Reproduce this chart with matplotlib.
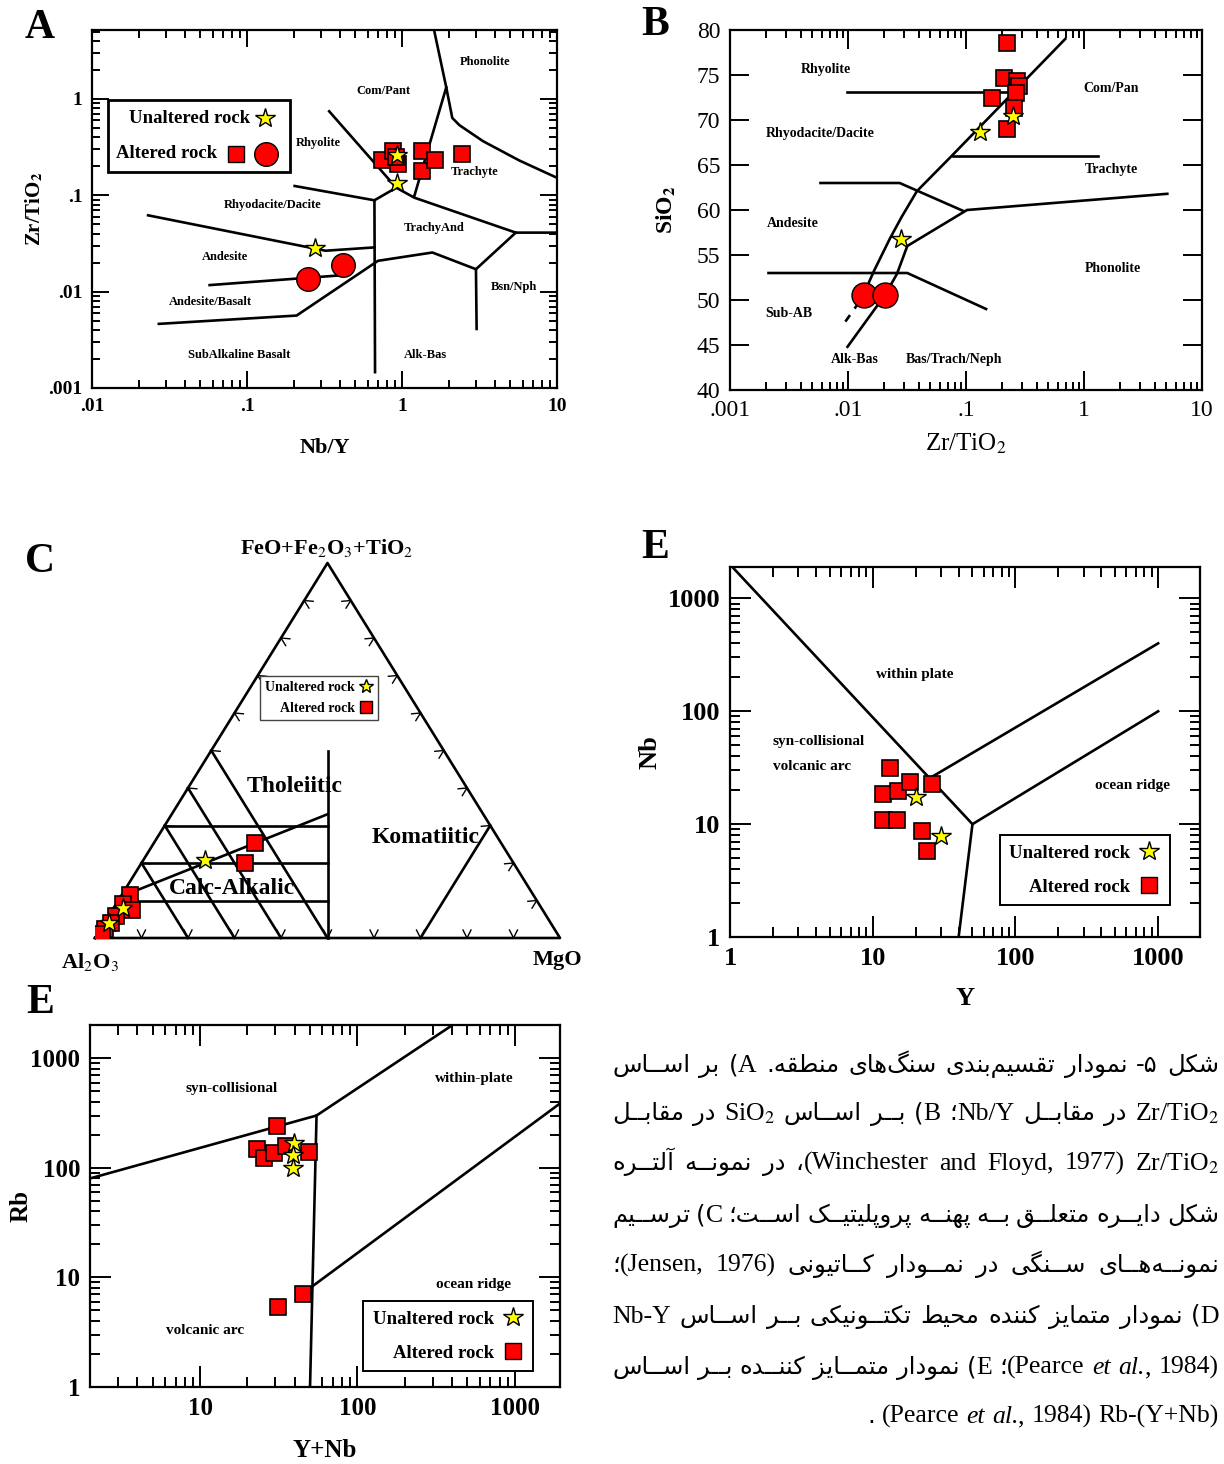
import matplotlib
matplotlib.use("Agg")
import matplotlib.pyplot as plt
from matplotlib.lines import Line2D
from matplotlib.patches import Rectangle
from matplotlib.ticker import LogLocator, NullFormatter

plt.rcParams["font.family"] = ["Liberation Serif", "DejaVu Sans"]
plt.rcParams["mathtext.fontset"] = "stix"

W, H = 1224, 1464
RED = "#ff0000"
YEL = "#ffff00"

# ---------------- A: Zr/TiO2 vs Nb/Y ----------------
a_sq_x = [0.74, 0.87, 0.94, 0.92, 1.34, 1.34, 1.63, 2.44]
a_sq_y = [0.23, 0.29, 0.21, 0.25, 0.29, 0.18, 0.23, 0.27]
a_st_x = [0.93, 0.93, 0.273]
a_st_y = [0.265, 0.135, 0.0283]
a_ci_x = [0.249, 0.414]
a_ci_y = [0.0135, 0.0189]
a_lines = [
    ([1.61, 1.93, 2.11, 2.35, 3.33, 5.71, 10], [5.2, 1.32, 0.636, 0.534, 0.365, 0.23, 0.152]),
    ([1.93, 1.2], [1.32, 0.098]),
    ([0.339, 0.918, 1.2, 5.42, 10], [0.745, 0.12, 0.0946, 0.041, 0.041]),
    ([0.203, 0.664, 0.918], [0.125, 0.0888, 0.12]),
    ([0.664, 0.67], [0.0888, 0.00146]),
    ([0.023, 0.321, 0.664], [0.062, 0.0266, 0.0288]),
    ([0.0574, 0.456], [0.0117, 0.015]),
    ([0.027, 0.209, 0.70, 1.57, 3.0, 5.42], [0.00463, 0.00565, 0.0209, 0.0255, 0.0171, 0.041]),
    ([3.0, 3.03], [0.0171, 0.0041]),
]
a_names = ["Phonolite", "Com/Pant", "Rhyolite", "Trachyte", "Rhyodacite/Dacite", "TrachyAnd",
           "Andesite", "Andesite/Basalt", "Bsn/Nph", "SubAlkaline Basalt", "Alk-Bas"]
a_name_x = [3.43, 0.76, 0.288, 2.92, 0.147, 1.61, 0.0724, 0.058, 5.27, 0.0897, 1.41]
a_name_y = [2.4, 1.2, 0.35, 0.174, 0.0794, 0.0463, 0.0227, 0.00776, 0.0113, 0.00221, 0.00221]

# ---------------- B: SiO2 vs Zr/TiO2 ----------------
b_sq_x = [0.221, 0.208, 0.271, 0.28, 0.166, 0.266, 0.255, 0.222]
b_sq_y = [78.6, 74.7, 74.3, 73.8, 72.4, 73.0, 71.3, 69.0]
b_st_x = [0.132, 0.251, 0.028]
b_st_y = [68.7, 70.4, 56.8]
b_ci_x = [0.0136, 0.0207]
b_ci_y = [50.6, 50.6]
b_lines = [
    ([0.693, 0.0755, 0.0384, 0.0284, 0.0226, 0.0167, 0.0144, 0.0128],
     [79.0, 66.0, 62.1, 59.2, 56.8, 53.3, 51.4, 50.0]),
    ([0.0099, 0.0207, 0.026, 0.0318, 0.102, 5.08], [44.8, 50.6, 52.9, 56.0, 60.0, 61.8]),
    ([0.00585, 0.0274, 0.0946], [63.0, 63.0, 59.9]),
    ([0.0099, 0.233], [73.1, 73.1]),
    ([0.0783, 1.31], [66.0, 66.0]),
    ([0.00212, 0.0318, 0.148], [53.0, 53.0, 49.0]),
]
b_dash_x = [0.0128, 0.0095]
b_dash_y = [50.0, 47.6]
b_names = ["Rhyolite", "Com/Pan", "Rhyodacite/Dacite", "Trachyte", "Andesite", "Phonolite",
           "Sub-AB", "Alk-Bas", "Bas/Trach/Neph"]
b_name_x = [0.00655, 1.71, 0.00577, 1.71, 0.00338, 1.75, 0.00313, 0.0115, 0.0794]
b_name_y = [75.6, 73.5, 68.5, 64.5, 58.5, 53.5, 48.5, 43.4, 43.4]

# ---------------- C: Jensen cation plot (Al, Fe+Ti, Mg) ----------------
c_sq = [(53.0, 25.3, 21.7), (57.7, 20.0, 22.3), (86.7, 11.5, 1.8), (89.5, 9.0, 1.5),
        (88.3, 7.5, 4.2), (92.5, 6.0, 1.5), (94.5, 4.0, 1.5), (96.5, 2.5, 1.0), (98.0, 1.0, 1.0)]
c_st = [(65.9, 20.8, 13.3), (90.0, 8.0, 2.0), (95.0, 4.0, 1.0)]
c_lines = [
    [(50, 50, 0), (50, 0, 50)],
    [(60, 40, 0), (60, 0, 40)],
    [(70, 30, 0), (70, 0, 30)],
    [(80, 20, 0), (80, 0, 20)],
    [(70, 30, 0), (35, 30, 35)],
    [(80, 20, 0), (40, 20, 40)],
    [(90, 10, 0), (45, 10, 45)],
    [(25, 50, 25), (50, 0, 50)],
    [(89, 11, 0), (33.5, 33, 33.5)],
    [(0, 30, 70), (30, 0, 70)],
]

# ---------------- E (upper): Nb vs Y ----------------
e1_sq_x = [13.2, 11.8, 15.1, 18.2, 26.2, 11.8, 14.9, 22.0, 23.9]
e1_sq_y = [31.6, 18.4, 19.7, 23.8, 22.5, 10.8, 10.8, 8.7, 5.8]
e1_st_x = [20.2, 30.3]
e1_st_y = [17.4, 7.9]
e1_lines = [([1, 50], [2000, 10]), ([25, 1000], [25.5, 400]), ([50, 1000], [10, 100]), ([50, 40], [10, 1])]

# ---------------- E (lower): Rb vs Y+Nb ----------------
e2_sq_x = [30.8, 22.9, 25.4, 29.6, 35.2, 49.4, 45.1, 31.2]
e2_sq_y = [239, 148, 124, 136, 159, 140, 7.0, 5.4]
e2_st_x = [39.8, 38.8, 38.8]
e2_st_y = [167, 131, 98.6]
e2_lines = [([2, 55, 400], [80, 300, 2000]), ([55, 50], [300, 1]), ([50, 2000], [8, 400])]

# ---------------- caption (logical order) ----------------
caption = [
    [("fa", "شکل ۵- نمودار تقسیم\u200cبندی سنگ\u200cهای منطقه. "), ("en", "A"), ("fa", ") بر اســاس")],
    [("en", "Zr/TiO$_2$"), ("fa", " در مقابــل "), ("en", "Nb/Y"), ("fa", "؛ "), ("en", "B"),
     ("fa", ") بــر اســاس "), ("en", "SiO$_2$"), ("fa", " در مقابــل")],
    [("en", "Zr/TiO$_2$"), ("fa", " "), ("en", "(Winchester and Floyd, 1977)"), ("fa", "، در نمونــه آلتــره")],
    [("fa", "شکل دایــره متعلــق بــه پهنــه پروپلیتیــک اســت؛ "), ("en", "C"), ("fa", ") ترســیم")],
    [("fa", "نمونــه\u200cهــای ســنگی در نمــودار کــاتیونی "), ("en", "(Jensen,  1976)"), ("fa", "؛")],
    [("en", "D"), ("fa", ") نمودار متمایز کننده محیط تکتــونیکی بــر اســاس "), ("en", "Nb-Y")],
    [("en", "(Pearce "), ("it", "et al."), ("en", ", 1984)"), ("fa", "؛ "), ("en", "E"),
     ("fa", ") نمودار متمــایز کننــده بــر اســاس")],
    [("en", "Rb-(Y+Nb)"), ("fa", " "), ("en", "(Pearce "), ("it", "et al."), ("en", ", 1984)"), ("fa", " .")],
]
caption_y = [1072, 1120, 1170, 1222, 1272, 1323, 1374, 1423]

fig = plt.figure(figsize=(W / 100, H / 100), dpi=100)


def px_axes(l, t, r, b):
    return fig.add_axes([l / W, 1 - b / H, (r - l) / W, (b - t) / H])


def style_frame(ax, major=12, minor=6):
    for s in ax.spines.values():
        s.set_linewidth(1.6)
    ax.tick_params(which="both", direction="in", top=True, right=True, width=1.4)
    ax.tick_params(which="major", length=major, pad=7)
    ax.tick_params(which="minor", length=minor)


def log_ticks(axis, vals, labs, size, weight):
    if axis.axis_name == "x":
        axis.axes.set_xticks(vals, labels=labs, fontsize=size, fontweight=weight)
    else:
        axis.axes.set_yticks(vals, labels=labs, fontsize=size, fontweight=weight)
    axis.set_minor_locator(LogLocator(base=10, subs=range(2, 10), numticks=30))
    axis.set_minor_formatter(NullFormatter())


def marks(ax, sx, sy, tx, ty, cx=None, cy=None, ms_sq=12, ms_st=15, ms_ci=17):
    ax.plot(sx, sy, "s", ms=ms_sq, mfc=RED, mec="k", mew=1.2, ls="none", zorder=5)
    if cx is not None:
        ax.plot(cx, cy, "o", ms=ms_ci, mfc=RED, mec="k", mew=1.0, ls="none", zorder=5)
    ax.plot(tx, ty, "*", ms=ms_st, mfc=YEL, mec="k", mew=1.0, ls="none", zorder=6)


LW = 1.9
bold9 = dict(fontsize=9, fontweight="bold", ha="center", va="center")
legfont = dict(family="Liberation Serif", weight="bold", size=13.5)

# ---------------- panel A ----------------
ax = px_axes(92, 30, 557, 388)
ax.set_xscale("log")
ax.set_yscale("log")
ax.set_xlim(0.01, 10)
ax.set_ylim(0.001, 5.2)
for xs, ys in a_lines:
    ax.plot(xs, ys, "k-", lw=LW)
for n, x, y in zip(a_names, a_name_x, a_name_y):
    ax.text(x, y, n, **bold9)
marks(ax, a_sq_x, a_sq_y, a_st_x, a_st_y, a_ci_x, a_ci_y)
style_frame(ax)
log_ticks(ax.xaxis, [0.01, 0.1, 1, 10], [".01", ".1", "1", "10"], 14, "bold")
log_ticks(ax.yaxis, [0.001, 0.01, 0.1, 1], [".001", ".01", ".1", "1"], 14, "bold")
ax.set_xlabel("Nb/Y", fontsize=16, fontweight="bold")
ax.set_ylabel(r"Zr/TiO$_\mathbf{2}$", fontsize=15, fontweight="bold")
ax.xaxis.set_label_coords(0.5, -0.14)
ax.yaxis.set_label_coords(-0.10, 0.5)
# legend box drawn by hand (markers sit right after each label)
ax.add_patch(Rectangle((0.034, 0.603), 0.392, 0.201, transform=ax.transAxes, fill=True,
                       fc="white", ec="k", lw=2, zorder=7))
ax.text(0.340, 0.754, "Unaltered rock", transform=ax.transAxes, ha="right", va="center",
        zorder=8, fontsize=13.5, fontweight="bold")
ax.text(0.269, 0.654, "Altered rock", transform=ax.transAxes, ha="right", va="center",
        zorder=8, fontsize=13.5, fontweight="bold")
ax.plot([0.372], [0.754], "*", ms=15, mfc=YEL, mec="k", transform=ax.transAxes, zorder=8)
ax.plot([0.310], [0.654], "s", ms=12, mfc=RED, mec="k", transform=ax.transAxes, zorder=8)
ax.plot([0.374], [0.654], "o", ms=17, mfc=RED, mec="k", transform=ax.transAxes, zorder=8)

# ---------------- panel B ----------------
ax = px_axes(730, 30, 1202, 390)
ax.set_xscale("log")
ax.set_xlim(0.001, 10)
ax.set_ylim(40, 80)
for xs, ys in b_lines:
    ax.plot(xs, ys, "k-", lw=LW)
ax.plot(b_dash_x, b_dash_y, "k--", lw=LW, dashes=(4, 3))
for n, x, y in zip(b_names, b_name_x, b_name_y):
    ax.text(x, y, n, fontsize=10, fontweight="bold", ha="center", va="center")
marks(ax, b_sq_x, b_sq_y, b_st_x, b_st_y, b_ci_x, b_ci_y, ms_ci=18)
style_frame(ax, major=14)
log_ticks(ax.xaxis, [0.001, 0.01, 0.1, 1, 10], [".001", ".01", ".1", "1", "10"], 17, "normal")
ax.set_yticks(range(40, 81, 5), labels=[str(v) for v in range(40, 81, 5)], fontsize=17)
ax.set_xlabel(r"Zr/TiO$_2$", fontsize=18)
ax.set_ylabel(r"SiO$_\mathbf{2}$", fontsize=17, fontweight="bold")
ax.xaxis.set_label_coords(0.5, -0.115)
ax.yaxis.set_label_coords(-0.11, 0.5)

# ---------------- panel C ----------------
ax = px_axes(95, 563, 560, 938)
ax.set_xlim(0, 1)
ax.set_ylim(0, 1)
ax.axis("off")


def tern(p):
    al, fe, mg = p
    s = al + fe + mg
    return mg / s + fe / s / 2, fe / s


ax.plot([0, 1, 0.5, 0], [0, 0, 1, 0], "k-", lw=LW, clip_on=False)
for a, b in c_lines:
    (u0, v0), (u1, v1) = tern(a), tern(b)
    ax.plot([u0, u1], [v0, v1], "k-", lw=LW, clip_on=False)
# small chevron ticks every 10 % on each side
sx, sy = 465.0, 375.0
corners = [(0, 0), (1, 0), (0.5, 1)]
for i in range(3):
    p0, p1 = corners[i], corners[(i + 1) % 3]
    tx, ty = (p1[0] - p0[0]) * sx, (p1[1] - p0[1]) * sy
    ln = (tx ** 2 + ty ** 2) ** 0.5
    tx, ty = tx / ln, ty / ln
    nx, ny = -ty, tx
    for k in range(1, 10):
        px = (p0[0] + (p1[0] - p0[0]) * k / 10) * sx
        py = (p0[1] + (p1[1] - p0[1]) * k / 10) * sy
        for sgn in (-1, 1):
            ex, ey = px + 8 * nx + sgn * 4 * tx, py + 8 * ny + sgn * 4 * ty
            ax.plot([px / sx, ex / sx], [py / sy, ey / sy], "k-", lw=1.0)
su = [tern(p)[0] for p in c_sq]
sv = [tern(p)[1] for p in c_sq]
tu = [tern(p)[0] for p in c_st]
tv = [tern(p)[1] for p in c_st]
marks(ax, su, sv, tu, tv, ms_sq=12, ms_st=14)
for n, u, v in [("Tholeiitic", 0.43, 0.403), ("Komatiitic", 0.71, 0.269), ("Calc-Alkalic", 0.295, 0.133)]:
    ax.text(u, v, n, fontsize=17, fontweight="bold", ha="center", va="center", zorder=4)
ax.text(0.499, 1.04, r"FeO+Fe$_2$O$_3$+TiO$_2$", fontsize=16, fontweight="bold", ha="center", va="center")
ax.text(-0.011, -0.064, r"Al$_2$O$_3$", fontsize=16, fontweight="bold", ha="center", va="center")
ax.text(0.994, -0.059, "MgO", fontsize=16, fontweight="bold", ha="center", va="center")
h_st_c = Line2D([], [], marker="*", ms=10, mfc=YEL, mec="k", ls="none")
h_sq_c = Line2D([], [], marker="s", ms=8, mfc=RED, mec="k", ls="none")
leg = ax.legend([h_st_c, h_sq_c], ["Unaltered rock", "Altered rock"], markerfirst=False,
                loc="upper left", bbox_to_anchor=(0.355, 0.699), borderaxespad=0, fancybox=False,
                framealpha=1, edgecolor="#444444", handlelength=1.0, handletextpad=0.3,
                labelspacing=0.6, borderpad=0.35, prop=dict(family="Liberation Serif", weight="bold", size=10))
leg.get_frame().set_linewidth(1)

# ---------------- panel E (upper) ----------------
h_st_e = Line2D([], [], marker="*", ms=15, mfc=YEL, mec="k", ls="none")
h_sq_e = Line2D([], [], marker="s", ms=12, mfc=RED, mec="k", ls="none")
ax = px_axes(730, 567, 1200, 937)
ax.set_xscale("log")
ax.set_yscale("log")
ax.set_xlim(1, 1965)
ax.set_ylim(1, 1900)
for xs, ys in e1_lines:
    ax.plot(xs, ys, "k-", lw=LW)
lab = dict(fontsize=11, fontweight="bold", va="center")
ax.text(19.8, 211, "within plate", ha="center", **lab)
ax.text(2.0, 54.4, "syn-collisional", ha="left", **lab)
ax.text(2.0, 32.7, "volcanic arc", ha="left", **lab)
ax.text(657, 21.8, "ocean ridge", ha="center", **lab)
marks(ax, e1_sq_x, e1_sq_y, e1_st_x, e1_st_y)
style_frame(ax, major=15, minor=7)
dec = [1, 10, 100, 1000]
declab = ["1", "10", "100", "1000"]
log_ticks(ax.xaxis, dec, declab, 19, "bold")
log_ticks(ax.yaxis, dec, declab, 19, "bold")
ax.set_xlabel("Y", fontsize=19, fontweight="bold")
ax.set_ylabel("Nb", fontsize=19, fontweight="bold")
ax.xaxis.set_label_coords(0.5, -0.135)
ax.yaxis.set_label_coords(-0.145, 0.5)
leg = ax.legend([h_st_e, h_sq_e], ["Unaltered rock", "Altered rock"], markerfirst=False,
                loc="lower right", bbox_to_anchor=(0.936, 0.086), borderaxespad=0, fancybox=False,
                framealpha=1, edgecolor="k", handlelength=1.2, handletextpad=0.4, labelspacing=0.9,
                borderpad=0.5, prop=legfont)
leg.get_frame().set_linewidth(1.4)

# ---------------- panel E (lower) ----------------
ax = px_axes(90, 1025, 560, 1387)
ax.set_xscale("log")
ax.set_yscale("log")
ax.set_xlim(2, 1937)
ax.set_ylim(1, 2010)
for xs, ys in e2_lines:
    ax.plot(xs, ys, "k-", lw=LW)
ax.text(15.8, 534, "syn-collisional", ha="center", **lab)
ax.text(551, 660, "within-plate", ha="center", **lab)
ax.text(545, 8.7, "ocean ridge", ha="center", **lab)
ax.text(10.8, 3.3, "volcanic arc", ha="center", **lab)
marks(ax, e2_sq_x, e2_sq_y, e2_st_x, e2_st_y)
style_frame(ax, major=15, minor=7)
log_ticks(ax.xaxis, [10, 100, 1000], ["10", "100", "1000"], 18, "bold")
log_ticks(ax.yaxis, dec, declab, 18, "bold")
ax.set_xlabel("Y+Nb", fontsize=18, fontweight="bold")
ax.set_ylabel("Rb", fontsize=18, fontweight="bold")
ax.xaxis.set_label_coords(0.5, -0.145)
ax.yaxis.set_label_coords(-0.123, 0.5)
leg = ax.legend([h_st_e, h_sq_e], ["Unaltered rock", "Altered rock"], markerfirst=False,
                loc="lower right", bbox_to_anchor=(0.943, 0.044), borderaxespad=0, fancybox=False,
                framealpha=1, edgecolor="k", handlelength=1.2, handletextpad=0.4, labelspacing=0.9,
                borderpad=0.5, prop=legfont)
leg.get_frame().set_linewidth(1.4)

# ---------------- panel letters ----------------
for t, x, y in [("A", 40, 28), ("B", 655, 25), ("C", 40, 562), ("E", 655, 548), ("E", 40, 1003)]:
    fig.text(x / W, 1 - y / H, t, fontsize=30, fontweight="bold", ha="center", va="center")

# ---------------- Persian caption (minimal shaping + RTL ordering) ----------------
FORMS = {
    "ا": (0xFE8D, 0xFE8E), "آ": (0xFE81, 0xFE82), "د": (0xFEA9, 0xFEAA), "ذ": (0xFEAB, 0xFEAC),
    "ر": (0xFEAD, 0xFEAE), "ز": (0xFEAF, 0xFEB0), "ژ": (0xFB8A, 0xFB8B), "و": (0xFEED, 0xFEEE),
    "ب": (0xFE8F, 0xFE90, 0xFE91, 0xFE92), "پ": (0xFB56, 0xFB57, 0xFB58, 0xFB59),
    "ت": (0xFE95, 0xFE96, 0xFE97, 0xFE98), "ث": (0xFE99, 0xFE9A, 0xFE9B, 0xFE9C),
    "ج": (0xFE9D, 0xFE9E, 0xFE9F, 0xFEA0), "چ": (0xFB7A, 0xFB7B, 0xFB7C, 0xFB7D),
    "ح": (0xFEA1, 0xFEA2, 0xFEA3, 0xFEA4), "خ": (0xFEA5, 0xFEA6, 0xFEA7, 0xFEA8),
    "س": (0xFEB1, 0xFEB2, 0xFEB3, 0xFEB4), "ش": (0xFEB5, 0xFEB6, 0xFEB7, 0xFEB8),
    "ص": (0xFEB9, 0xFEBA, 0xFEBB, 0xFEBC), "ض": (0xFEBD, 0xFEBE, 0xFEBF, 0xFEC0),
    "ط": (0xFEC1, 0xFEC2, 0xFEC3, 0xFEC4), "ظ": (0xFEC5, 0xFEC6, 0xFEC7, 0xFEC8),
    "ع": (0xFEC9, 0xFECA, 0xFECB, 0xFECC), "غ": (0xFECD, 0xFECE, 0xFECF, 0xFED0),
    "ف": (0xFED1, 0xFED2, 0xFED3, 0xFED4), "ق": (0xFED5, 0xFED6, 0xFED7, 0xFED8),
    "ک": (0xFB8E, 0xFB8F, 0xFB90, 0xFB91), "گ": (0xFB92, 0xFB93, 0xFB94, 0xFB95),
    "ل": (0xFEDD, 0xFEDE, 0xFEDF, 0xFEE0), "م": (0xFEE1, 0xFEE2, 0xFEE3, 0xFEE4),
    "ن": (0xFEE5, 0xFEE6, 0xFEE7, 0xFEE8), "ه": (0xFEE9, 0xFEEA, 0xFEEB, 0xFEEC),
    "ی": (0xFBFC, 0xFBFD, 0xFBFE, 0xFBFF), "ـ": (0x640, 0x640, 0x640, 0x640),
}
MIRROR = {"(": ")", ")": "("}


def shape_fa(s):
    out = []
    for i, ch in enumerate(s):
        if ch not in FORMS:
            if ch != "\u200c":
                out.append(MIRROR.get(ch, ch))
            continue
        f = FORMS[ch]
        prev = s[i - 1] if i > 0 else ""
        nxt = s[i + 1] if i + 1 < len(s) else ""
        jp = prev in FORMS and len(FORMS[prev]) == 4
        jn = len(f) == 4 and nxt in FORMS
        c = f[3] if (jp and jn) else f[1] if jp else f[2] if jn else f[0]
        out.append(chr(c))
    return "".join(reversed(out))


def visual_words(segs):
    runs = []
    for kind, txt in segs:
        d = "fa" if kind == "fa" else "ltr"
        if runs and runs[-1][0] == d:
            runs[-1][1].append((kind, txt))
        else:
            runs.append([d, [(kind, txt)]])
    pieces = []
    for d, parts in reversed(runs):
        if d == "fa":
            pieces.append((shape_fa("".join(p[1] for p in parts)), "fa"))
        else:
            pieces.extend((txt, kind) for kind, txt in parts)
    words = [[]]
    for txt, kind in pieces:
        for k, chunk in enumerate(txt.split(" ")):
            if k > 0:
                words.append([])
            if chunk:
                words[-1].append((chunk, kind))
    return [w for w in words if w]


STYLE = {"fa": dict(family=["DejaVu Sans"], size=17.5),
         "en": dict(family=["Liberation Serif", "DejaVu Sans"], size=18.5),
         "it": dict(family=["Liberation Serif"], size=18.5, style="italic")}
renderer = fig.canvas.get_renderer()
X0, X1 = 612, 1219
for li, (segs, yb) in enumerate(zip(caption, caption_y)):
    words = visual_words(segs)
    arts, widths = [], []
    for w in words:
        ts = [fig.text(0, 1 - yb / H, txt, va="baseline", ha="left", **STYLE[kind]) for txt, kind in w]
        arts.append(ts)
        widths.append([t.get_window_extent(renderer).width for t in ts])
    total = sum(sum(w) for w in widths)
    if li == len(caption) - 1:
        gap = 7.0
        x = X1 - total - gap * (len(words) - 1)
    else:
        gap = (X1 - X0 - total) / max(len(words) - 1, 1)
        x = X0
    for ts, ws in zip(arts, widths):
        for t, wd in zip(ts, ws):
            t.set_x(x / W)
            x += wd
        x += gap

fig.savefig("out.png", dpi=100)
